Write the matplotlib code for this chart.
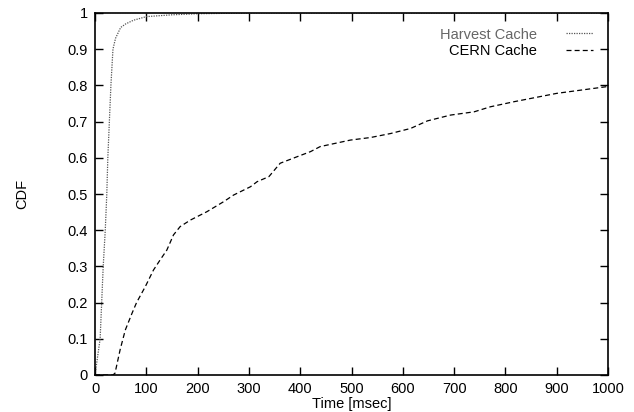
import matplotlib
matplotlib.use('Agg')
from matplotlib import pyplot as plt

# latency CDF
harvest_ms = [0, 3, 6, 10, 16, 20, 23, 25, 28, 31, 35, 40, 50, 60, 75, 100, 150, 200, 300, 1000]
harvest_cdf = [0, 0.03, 0.06, 0.10, 0.30, 0.40, 0.50, 0.60, 0.70, 0.80, 0.90, 0.93, 0.96, 0.97,
               0.98, 0.99, 0.995, 0.998, 1.0, 1.0]

cern_ms = [0, 35, 39, 49, 59, 72, 81, 98, 114, 127, 140, 153, 166, 186, 218, 251, 270, 303, 316,
           339, 361, 394, 420, 439, 498, 537, 576, 615, 648, 693, 739, 771, 817, 900, 1000]
cern_cdf = [0, 0, 0.005, 0.07, 0.124, 0.17, 0.20, 0.244, 0.29, 0.318, 0.345, 0.387, 0.41, 0.428,
            0.451, 0.479, 0.497, 0.52, 0.534, 0.548, 0.585, 0.603, 0.617, 0.631, 0.649, 0.656,
            0.667, 0.681, 0.702, 0.718, 0.727, 0.741, 0.755, 0.778, 0.797]

x_ticks = list(range(0, 1001, 100))
y_ticks = [round(0.1 * i, 1) for i in range(11)]
y_tick_labels = ['0', '0.1', '0.2', '0.3', '0.4', '0.5', '0.6', '0.7', '0.8', '0.9', '1']

plt.rcParams['font.family'] = ['Liberation Sans', 'DejaVu Sans']
plt.rcParams['font.size'] = 10.5

fig = plt.figure(figsize=(6.34, 4.12), dpi=100)
ax = fig.add_axes([95 / 634, 1 - 375 / 412, 513 / 634, 362 / 412])

ax.plot(harvest_ms, harvest_cdf, color='#555555', linestyle=(0, (1, 1)), linewidth=0.9,
        label='Harvest Cache')
ax.plot(cern_ms, cern_cdf, color='black', linestyle=(0, (4, 2.5)), linewidth=0.9,
        label='CERN Cache')

ax.set_xlim(0, 1000)
ax.set_ylim(0, 1)
ax.set_xticks(x_ticks)
ax.set_yticks(y_ticks)
ax.set_yticklabels(y_tick_labels)
ax.tick_params(direction='in', length=6, width=1, top=True, right=True, pad=5)
for s in ax.spines.values():
    s.set_linewidth(1.2)

ax.set_xlabel('Time [msec]', labelpad=1)
ax.set_ylabel('CDF', labelpad=28)

leg = ax.legend(loc='upper right', frameon=False, markerfirst=False, handlelength=1.9,
                borderaxespad=0.6, labelspacing=0.15, handletextpad=2.0)
leg.get_texts()[0].set_color('#666666')

fig.savefig('out.png', dpi=100)
